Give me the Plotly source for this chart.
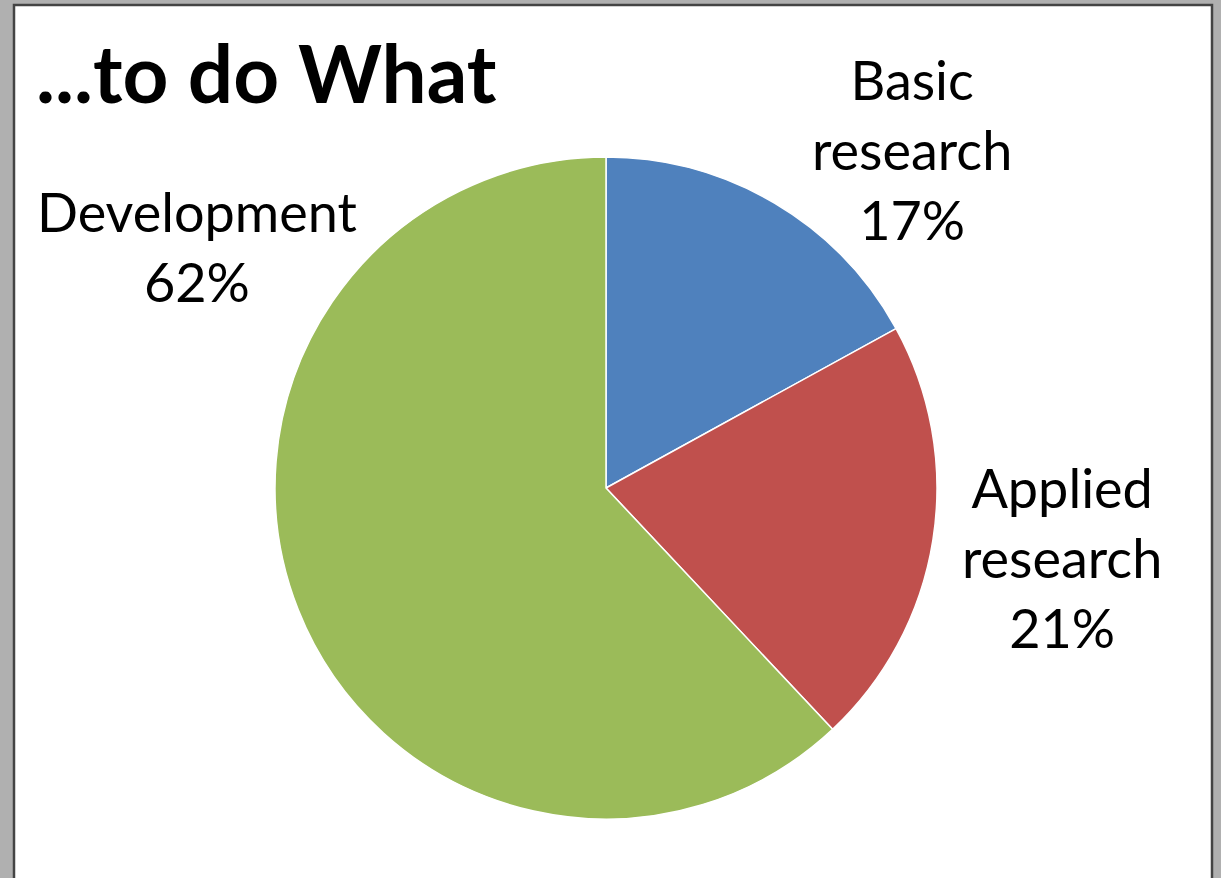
import plotly.graph_objects as go

categories = ["Basic research", "Applied research", "Development"]
shares = [17, 21, 62]
colors = ["#4F81BD", "#C0504D", "#9BBB59"]
title_text = "...to do What"

W, H = 1221, 878

def px(x):
    return x / W

def py(y):
    return 1 - y / H

fig = go.Figure(go.Pie(
    labels=categories,
    values=shares,
    sort=False,
    direction="clockwise",
    rotation=0,
    marker=dict(colors=colors, line=dict(color="white", width=1.5)),
    textinfo="none",
    hoverinfo="label+percent",
    showlegend=False,
    domain=dict(x=[px(275), px(937)], y=[py(820), py(156)]),
))

label_pos = {
    "Basic research": (912, 150),
    "Applied research": (1062, 557),
    "Development": (197, 246),
}

annotations = []
for cat, val in zip(categories, shares):
    x, y = label_pos[cat]
    if cat == "Development":
        txt = f"{cat}<br>{val}%"
    else:
        txt = "<br>".join(cat.split(" ")) + f"<br>{val}%"
    annotations.append(dict(
        x=px(x), y=py(y), xref="paper", yref="paper",
        text=txt, showarrow=False, align="center",
        xanchor="center", yanchor="middle",
        font=dict(family="Lato", size=54, color="black"),
    ))

annotations.append(dict(
    x=px(34), y=py(122), xref="paper", yref="paper",
    text=f"<b>{title_text}</b>", showarrow=False,
    xanchor="left", yanchor="bottom",
    font=dict(family="Lato", size=80, color="black"),
))

fig.update_layout(
    width=W, height=H,
    margin=dict(l=0, r=0, t=0, b=0),
    paper_bgcolor="#b0b0b0",
    plot_bgcolor="white",
    annotations=annotations,
    shapes=[
        dict(type="rect", xref="paper", yref="paper", layer="below",
             x0=px(14), x1=px(1212), y0=py(900), y1=py(5),
             fillcolor="white", line=dict(color="#444444", width=2.5)),
    ],
)

fig.write_html("out.html", config={"displayModeBar": False},
               post_script="document.body.style.margin='0';")
